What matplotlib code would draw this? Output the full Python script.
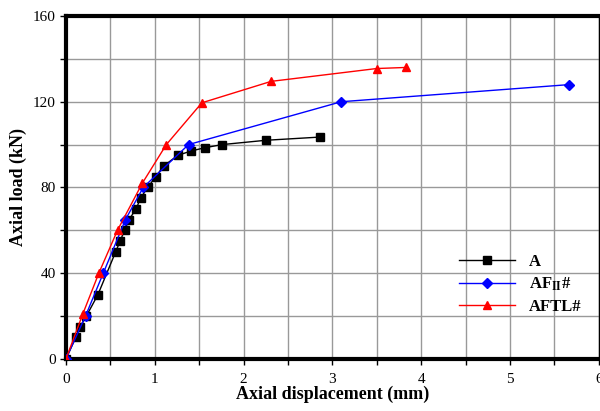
import matplotlib
matplotlib.use("Agg")
import matplotlib.pyplot as plt
import numpy as np

plt.rcParams['font.family'] = ['Liberation Serif', 'DejaVu Serif']
plt.rcParams['mathtext.fontset'] = 'stix'

# series A (black squares)
a_x = [0.0, 0.11, 0.16, 0.23, 0.36, 0.56, 0.61, 0.66, 0.71, 0.79, 0.84, 0.92,
       1.01, 1.10, 1.26, 1.41, 1.56, 1.76, 2.25, 2.86]
a_y = [0, 10, 15, 20, 30, 50, 55, 60, 65, 70, 75, 80, 85, 90, 95, 97, 98.5,
       100, 102, 103.5]

# series AFII# (blue diamonds)
b_x = [0.0, 0.22, 0.42, 0.67, 0.87, 1.38, 3.10, 5.67]
b_y = [0, 20, 40, 65, 80, 100, 120, 128]

# series AFTL# (red triangles)
c_x = [0.0, 0.19, 0.37, 0.58, 0.86, 1.13, 1.53, 2.31, 3.50, 3.83]
c_y = [0, 21, 40, 60, 82, 100, 119.5, 129.5, 135.5, 136]

x_major = [0, 1, 2, 3, 4, 5, 6]
y_major = [0, 40, 80, 120, 160]

fig = plt.figure(figsize=(6, 4.11), dpi=100)
ax = fig.add_axes([0.11, 0.127, 0.888, 0.834])

ax.plot(a_x, a_y, color='black', lw=1, marker='s', ms=6, label='A', zorder=3)
ax.plot(b_x, b_y, color='blue', lw=1, marker='D', ms=5,
        label=r'AF$_{\mathbf{II}}$#', zorder=4)
ax.plot(c_x, c_y, color='red', lw=1, marker='^', ms=6, label='AFTL#', zorder=5)

ax.set_xlim(0, 6)
ax.set_ylim(0, 160)
ax.set_xticks(x_major)
ax.set_xticks(np.arange(0, 6.01, 0.5), minor=True)
ax.set_yticks(y_major)
ax.set_yticks(np.arange(0, 161, 20), minor=True)
ax.grid(True, which='both', color='#999999', lw=1)
ax.set_axisbelow(True)
ax.tick_params(which='both', direction='out', length=4, width=1, labelsize=11)
ax.tick_params(axis='x', pad=6)

for side in ['left', 'bottom', 'top']:
    ax.spines[side].set_linewidth(3)
ax.spines['right'].set_linewidth(1)

ax.set_xlabel('Axial displacement (mm)', fontsize=13, fontweight='bold', labelpad=0)
ax.set_ylabel('Axial load (kN)', fontsize=13, fontweight='bold', labelpad=4)

leg = ax.legend(loc='lower right', bbox_to_anchor=(0.995, 0.085), frameon=False,
                prop={'weight': 'bold', 'size': 12}, handlelength=3.4,
                labelspacing=0.35)

fig.savefig('out.png', dpi=100)
